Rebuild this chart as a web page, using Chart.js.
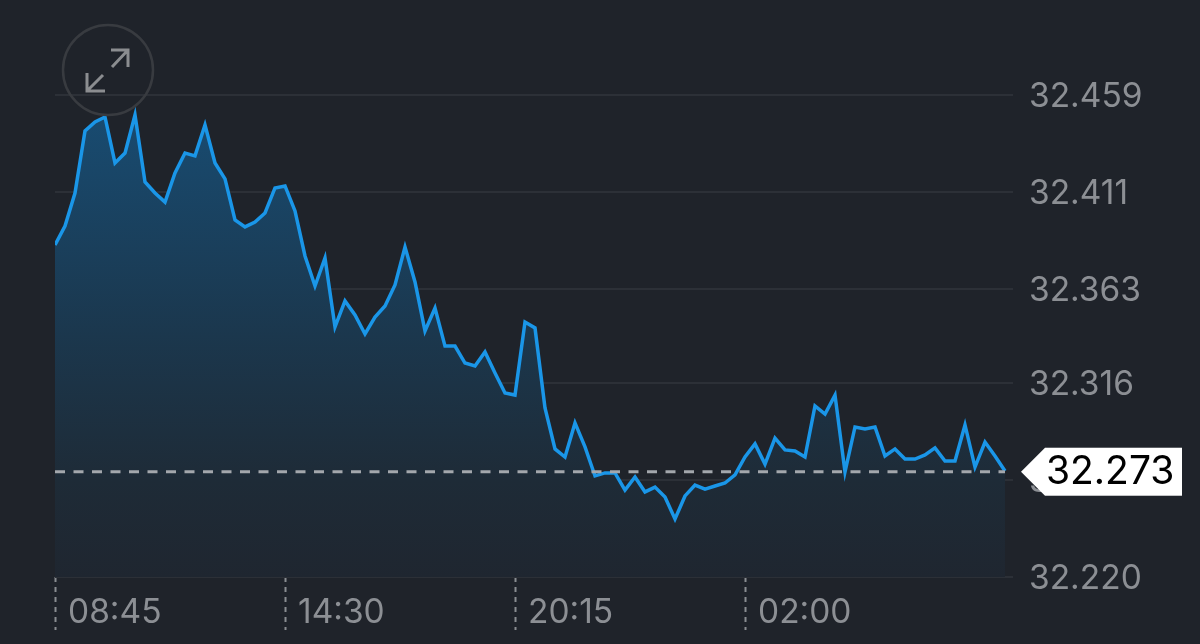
<!DOCTYPE html>
<html>
<head>
<meta charset="utf-8">
<title>Price chart</title>
<script src="https://cdn.jsdelivr.net/npm/chart.js@4"></script>
<style>
    html, body { margin: 0; background: #1f232a; }
    #wrap { width: 1200px; height: 644px; }
</style>
</head>
<body>
<div id="wrap"><canvas id="price-chart"></canvas></div>
<script>
// values, one every 15 minutes
const priceValues = [
    32.3846, 32.3940, 32.4104, 32.4412, 32.4456, 32.4481, 32.4253, 32.4302,
    32.4491, 32.4159, 32.4104, 32.4059, 32.4203, 32.4302, 32.4288, 32.4441,
    32.4253, 32.4174, 32.3970, 32.3936, 32.3960, 32.4005, 32.4129, 32.4139,
    32.4015, 32.3792, 32.3643, 32.3782, 32.3440, 32.3569, 32.3499, 32.3405,
    32.3489, 32.3544, 32.3648, 32.3836, 32.3663, 32.3420, 32.3534, 32.3345,
    32.3345, 32.3261, 32.3246, 32.3316, 32.3212, 32.3112, 32.3102, 32.3464,
    32.3435, 32.3038, 32.2835, 32.2795, 32.2964, 32.2845, 32.2701, 32.2716,
    32.2716, 32.2631, 32.2696, 32.2622, 32.2646, 32.2597, 32.2488, 32.2602,
    32.2656, 32.2636, 32.2651, 32.2666, 32.2706, 32.2795, 32.2860, 32.2760,
    32.2889, 32.2830, 32.2825, 32.2795, 32.3048, 32.3008, 32.3102, 32.2721,
    32.2944, 32.2934, 32.2944, 32.2800, 32.2835, 32.2785, 32.2785, 32.2805,
    32.2840, 32.2775, 32.2775, 32.2954, 32.2745, 32.2869, 32.2800, 32.2726
];
const timeLabels = ['08:45', '14:30', '20:15', '02:00'];
const timeIndices = [0, 23, 46, 69];
const priceTicks = [32.220, 32.268, 32.316, 32.363, 32.411, 32.459];
const lastPrice = 32.2722;
const lastPriceLabel = '32.273';

const FONT = 'Inter, "Liberation Sans", sans-serif';

// white tag on the right and the expand button in the corner
const overlayPlugin = {
    id: 'overlay',
    afterDraw(chart) {
        const ctx = chart.ctx;
        const area = chart.chartArea;
        const y = chart.scales.y.getPixelForValue(lastPrice);
        const left = area.right + 32;

        ctx.save();
        ctx.fillStyle = '#ffffff';
        ctx.beginPath();
        ctx.moveTo(area.right + 8, y);
        ctx.lineTo(left, y - 24);
        ctx.lineTo(left, y + 24);
        ctx.closePath();
        ctx.fill();
        ctx.fillRect(left, y - 24, 137, 48);

        ctx.fillStyle = '#000000';
        ctx.font = '39px ' + FONT;
        ctx.textAlign = 'left';
        ctx.textBaseline = 'middle';
        ctx.fillText(lastPriceLabel, left + 1, y + 1);

        // expand button
        ctx.strokeStyle = '#383b40';
        ctx.lineWidth = 2.5;
        ctx.beginPath();
        ctx.arc(108, 70, 45, 0, Math.PI * 2);
        ctx.stroke();

        ctx.strokeStyle = '#8b8d90';
        ctx.lineWidth = 3;
        ctx.beginPath();
        ctx.moveTo(112, 67);
        ctx.lineTo(128, 50);
        ctx.moveTo(111, 50);
        ctx.lineTo(128, 50);
        ctx.lineTo(128, 67);
        ctx.moveTo(103, 75);
        ctx.lineTo(87, 91);
        ctx.moveTo(87, 73);
        ctx.lineTo(87, 91);
        ctx.lineTo(105, 91);
        ctx.stroke();
        ctx.restore();
    }
};

function areaGradient(context) {
    const area = context.chart.chartArea;
    if (!area) return 'transparent';
    const g = context.chart.ctx.createLinearGradient(0, area.top, 0, area.bottom);
    g.addColorStop(0, '#184d74');
    g.addColorStop(0.5, '#1b374d');
    g.addColorStop(0.8, '#1e2b37');
    g.addColorStop(1, '#1f2630');
    return g;
}

new Chart(document.getElementById('price-chart').getContext('2d'), {
    type: 'line',
    data: {
        datasets: [{
            label: 'Last price',
            data: priceValues.map((v, i) => ({ x: i, y: lastPrice })),
            borderColor: '#a3a7ac',
            borderWidth: 3,
            borderDash: [10, 8.5],
            pointRadius: 0,
            fill: false,
            order: 0
        }, {
            label: 'Price',
            data: priceValues.map((v, i) => ({ x: i, y: v })),
            borderColor: '#1a96e8',
            borderWidth: 3.5,
            tension: 0,
            pointRadius: 0,
            fill: 'start',
            backgroundColor: areaGradient,
            order: 1
        }]
    },
    options: {
        responsive: true,
        maintainAspectRatio: false,
        animation: false,
        layout: { padding: { left: 55, top: 95 } },
        plugins: {
            legend: { display: false },
            tooltip: { enabled: false }
        },
        scales: {
            x: {
                type: 'linear',
                min: 0,
                max: 95.8,
                afterBuildTicks: (axis) => { axis.ticks = timeIndices.map(value => ({ value })); },
                afterFit: (axis) => { axis.height = 67; },
                border: { display: false },
                grid: {
                    drawOnChartArea: false,
                    drawTicks: true,
                    tickLength: 53,
                    tickColor: '#8a8d91',
                    tickWidth: 2,
                    tickBorderDash: [5, 5]
                },
                ticks: {
                    autoSkip: false,
                    maxRotation: 0,
                    align: 'start',
                    labelOffset: 13,
                    padding: -37,
                    color: '#8c8f94',
                    font: { family: FONT, size: 33.5 },
                    callback: (value, index) => timeLabels[index]
                }
            },
            y: {
                position: 'right',
                min: 32.220,
                max: 32.459,
                afterBuildTicks: (axis) => { axis.ticks = priceTicks.map(value => ({ value })); },
                afterFit: (axis) => { axis.width = 187; },
                border: { display: false },
                grid: {
                    color: '#2c3037',
                    lineWidth: 2,
                    drawTicks: false
                },
                ticks: {
                    autoSkip: false,
                    padding: 16,
                    labelOffset: 2,
                    color: '#8c8f94',
                    font: { family: FONT, size: 33.5 },
                    callback: (value) => value.toFixed(3)
                }
            }
        }
    },
    plugins: [overlayPlugin]
});
</script>
</body>
</html>
